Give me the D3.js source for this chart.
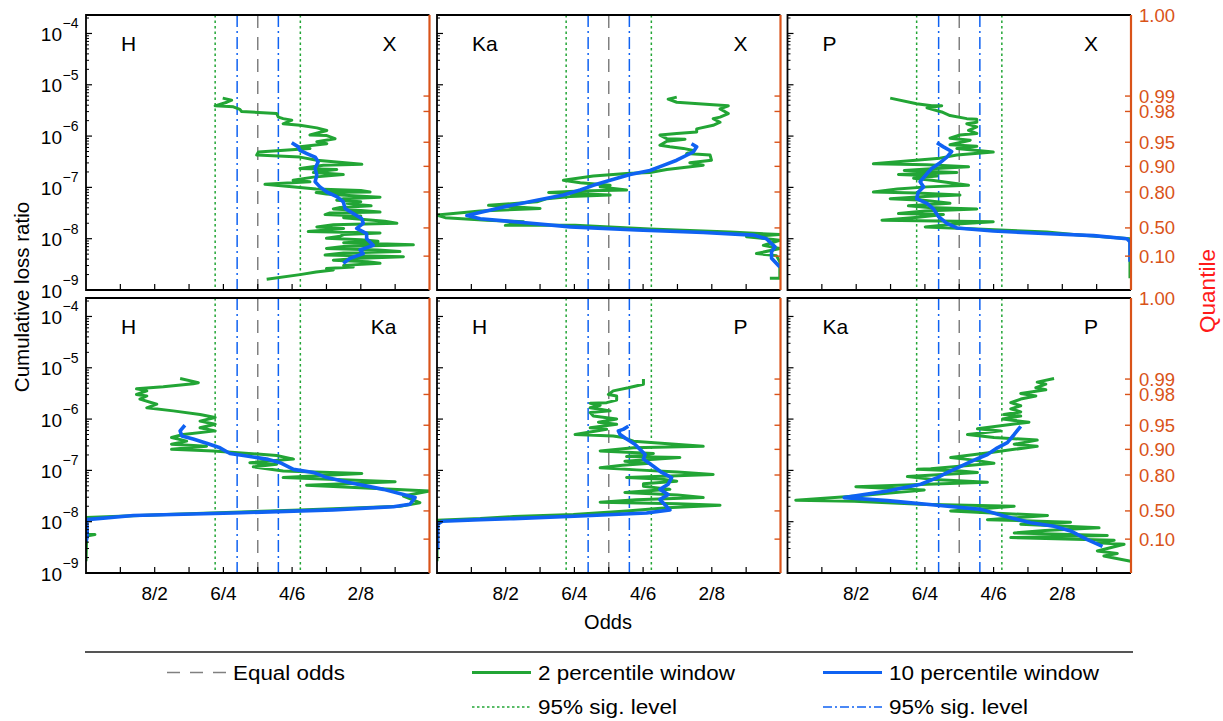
<!DOCTYPE html>
<html>
<head>
<meta charset="utf-8">
<script src="https://cdn.jsdelivr.net/npm/d3@7"></script>
<style>
  body { margin: 0; background: #fff; }
  text { font-family: "Liberation Sans", Arial, sans-serif; }
</style>
</head>
<body>
<svg id="chart" width="1223" height="721"></svg>
<script>
// ---- axis values ----
const oddsTicks = [0.9, 0.8, 0.7, 0.6, 0.5, 0.4, 0.3, 0.2, 0.1];
const oddsLabelValues = [0.8, 0.6, 0.4, 0.2];
const oddsLabels = ["8/2", "6/4", "4/6", "2/8"];
const decadeExponents = [-4, -5, -6, -7, -8, -9];
const topExponent = -3.64;
const bottomExponent = -9;
const quantileLabels = ["1.00", "0.99", "0.98", "0.95", "0.90", "0.80", "0.50", "0.10"];
const quantileExponents = [-3.64, -5.22, -5.52, -6.12, -6.59, -7.09, -7.79, -8.34];

// ---- reference levels (odds) ----
const equalOdds = 0.5;
const sigLevel2 = [0.624, 0.376];
const sigLevel10 = [0.56, 0.44];

// ---- panel pairs ----
const panelPairs = [["H", "X"], ["Ka", "X"], ["P", "X"], ["H", "Ka"], ["H", "P"], ["Ka", "P"]];

// ---- curves: [odds, log10(cumulative loss ratio)] ----
const hxGreen = [[0.602,-5.26],[0.576,-5.30],[0.590,-5.34],[0.624,-5.41],[0.571,-5.43],[0.552,-5.48],[0.547,-5.52],[0.445,-5.56],[0.440,-5.63],[0.426,-5.66],[0.401,-5.69],[0.426,-5.76],[0.377,-5.79],[0.328,-5.84],[0.299,-5.89],[0.348,-5.98],[0.299,-5.99],[0.275,-6.05],[0.328,-6.11],[0.299,-6.15],[0.377,-6.21],[0.348,-6.24],[0.498,-6.31],[0.503,-6.37],[0.377,-6.41],[0.328,-6.47],[0.197,-6.55],[0.309,-6.57],[0.377,-6.63],[0.270,-6.65],[0.310,-6.68],[0.338,-6.71],[0.251,-6.75],[0.338,-6.80],[0.397,-6.86],[0.348,-6.89],[0.479,-6.94],[0.377,-7.00],[0.330,-7.03],[0.200,-7.06],[0.173,-7.09],[0.330,-7.10],[0.300,-7.13],[0.260,-7.15],[0.144,-7.19],[0.250,-7.22],[0.270,-7.25],[0.200,-7.28],[0.240,-7.31],[0.222,-7.33],[0.170,-7.36],[0.260,-7.39],[0.280,-7.42],[0.200,-7.45],[0.144,-7.48],[0.290,-7.50],[0.304,-7.53],[0.200,-7.56],[0.250,-7.59],[0.200,-7.62],[0.130,-7.66],[0.095,-7.70],[0.280,-7.73],[0.328,-7.77],[0.250,-7.80],[0.300,-7.83],[0.353,-7.86],[0.144,-7.89],[0.250,-7.92],[0.260,-7.95],[0.300,-7.99],[0.200,-8.02],[0.150,-8.05],[0.250,-8.08],[0.047,-8.12],[0.250,-8.15],[0.300,-8.19],[0.150,-8.22],[0.086,-8.25],[0.250,-8.28],[0.304,-8.32],[0.076,-8.35],[0.200,-8.38],[0.280,-8.42],[0.180,-8.45],[0.144,-8.48],[0.250,-8.52],[0.222,-8.55],[0.300,-8.58],[0.280,-8.61],[0.330,-8.65],[0.377,-8.70],[0.474,-8.79]];
const hxBlue = [[0.401,-6.13],[0.382,-6.21],[0.377,-6.28],[0.357,-6.34],[0.333,-6.41],[0.324,-6.50],[0.333,-6.63],[0.328,-6.76],[0.333,-6.89],[0.319,-6.99],[0.299,-7.09],[0.270,-7.18],[0.251,-7.28],[0.246,-7.41],[0.222,-7.51],[0.197,-7.61],[0.193,-7.70],[0.212,-7.80],[0.183,-7.90],[0.183,-8.00],[0.164,-8.13],[0.202,-8.22],[0.193,-8.29],[0.231,-8.38],[0.251,-8.48]];

const kaxGreen = [[0.302,-5.24],[0.327,-5.28],[0.302,-5.34],[0.196,-5.39],[0.152,-5.41],[0.176,-5.47],[0.152,-5.56],[0.176,-5.63],[0.196,-5.66],[0.176,-5.73],[0.196,-5.79],[0.244,-5.86],[0.244,-5.92],[0.302,-5.95],[0.351,-5.98],[0.331,-6.05],[0.278,-6.06],[0.331,-6.10],[0.351,-6.18],[0.322,-6.21],[0.283,-6.24],[0.254,-6.28],[0.273,-6.34],[0.205,-6.37],[0.201,-6.47],[0.264,-6.52],[0.225,-6.57],[0.331,-6.65],[0.380,-6.71],[0.448,-6.73],[0.545,-6.78],[0.632,-6.86],[0.583,-6.91],[0.496,-6.96],[0.525,-6.99],[0.448,-7.05],[0.583,-7.07],[0.675,-7.10],[0.496,-7.15],[0.612,-7.18],[0.680,-7.22],[0.709,-7.28],[0.850,-7.35],[0.700,-7.41],[0.874,-7.46],[1.0,-7.54],[0.976,-7.59],[0.855,-7.64],[0.748,-7.67],[0.801,-7.74],[0.598,-7.74],[0.380,-7.81],[0.147,-7.87],[0.002,-7.92],[0.099,-7.96],[0.002,-8.03],[0.050,-8.13],[0.002,-8.19],[0.070,-8.29],[0.012,-8.33],[0.002,-8.45],[0.002,-8.77],[0.031,-8.77]];
const kaxBlue = [[0.259,-6.15],[0.244,-6.21],[0.254,-6.31],[0.302,-6.47],[0.341,-6.57],[0.380,-6.67],[0.438,-6.75],[0.496,-6.86],[0.545,-6.96],[0.583,-7.05],[0.632,-7.15],[0.709,-7.25],[0.806,-7.38],[0.913,-7.55],[0.874,-7.61],[0.758,-7.68],[0.612,-7.77],[0.419,-7.83],[0.225,-7.88],[0.079,-7.93],[0.041,-8.00],[0.016,-8.16],[0.026,-8.25],[0.026,-8.38],[0.002,-8.55]];

const pxGreen = [[0.701,-5.26],[0.624,-5.37],[0.580,-5.41],[0.551,-5.41],[0.594,-5.45],[0.551,-5.53],[0.527,-5.60],[0.478,-5.66],[0.449,-5.67],[0.449,-5.73],[0.478,-5.76],[0.449,-5.82],[0.473,-5.89],[0.449,-5.95],[0.498,-5.98],[0.527,-6.04],[0.468,-6.08],[0.527,-6.17],[0.449,-6.20],[0.507,-6.24],[0.401,-6.31],[0.507,-6.37],[0.556,-6.43],[0.750,-6.54],[0.594,-6.56],[0.473,-6.60],[0.594,-6.64],[0.660,-6.67],[0.507,-6.71],[0.677,-6.75],[0.565,-6.78],[0.633,-6.82],[0.580,-6.86],[0.473,-6.96],[0.594,-6.99],[0.680,-7.03],[0.750,-7.09],[0.624,-7.11],[0.498,-7.15],[0.600,-7.18],[0.701,-7.22],[0.604,-7.25],[0.527,-7.31],[0.648,-7.36],[0.590,-7.39],[0.449,-7.42],[0.600,-7.46],[0.677,-7.51],[0.546,-7.53],[0.620,-7.58],[0.725,-7.64],[0.401,-7.67],[0.520,-7.72],[0.599,-7.77],[0.449,-7.81],[0.245,-7.87],[0.168,-7.92],[0.003,-8.00],[0.003,-8.77]];
const pxBlue = [[0.565,-6.13],[0.546,-6.21],[0.522,-6.30],[0.536,-6.41],[0.560,-6.54],[0.580,-6.63],[0.594,-6.73],[0.614,-6.89],[0.604,-6.99],[0.619,-7.09],[0.624,-7.22],[0.594,-7.31],[0.575,-7.42],[0.560,-7.57],[0.536,-7.70],[0.507,-7.79],[0.401,-7.85],[0.254,-7.90],[0.109,-7.94],[0.012,-8.00],[0.003,-8.06],[0.003,-8.45]];

const hkaGreen = [[0.726,-5.21],[0.673,-5.29],[0.688,-5.31],[0.746,-5.35],[0.775,-5.37],[0.853,-5.41],[0.823,-5.45],[0.853,-5.52],[0.823,-5.55],[0.843,-5.61],[0.794,-5.71],[0.823,-5.78],[0.746,-5.84],[0.668,-5.91],[0.624,-5.97],[0.668,-6.04],[0.624,-6.10],[0.668,-6.17],[0.624,-6.23],[0.717,-6.30],[0.751,-6.36],[0.707,-6.43],[0.751,-6.49],[0.649,-6.53],[0.751,-6.59],[0.629,-6.62],[0.445,-6.71],[0.396,-6.78],[0.523,-6.85],[0.445,-6.88],[0.513,-6.93],[0.426,-7.01],[0.197,-7.06],[0.426,-7.14],[0.100,-7.22],[0.358,-7.29],[0.0,-7.40],[0.076,-7.50],[0.028,-7.63],[0.086,-7.70],[0.377,-7.77],[0.765,-7.86],[1.0,-7.92],[0.998,-8.25],[0.974,-8.25],[0.998,-8.28],[1.0,-8.77]];
const hkaBlue = [[0.712,-6.12],[0.726,-6.23],[0.721,-6.33],[0.688,-6.39],[0.649,-6.47],[0.610,-6.56],[0.581,-6.67],[0.532,-6.72],[0.474,-6.78],[0.435,-6.85],[0.396,-6.98],[0.338,-7.04],[0.299,-7.14],[0.231,-7.24],[0.134,-7.37],[0.076,-7.47],[0.042,-7.53],[0.057,-7.66],[0.105,-7.71],[0.280,-7.77],[0.571,-7.83],[0.862,-7.88],[0.998,-7.96],[0.996,-8.28],[1.0,-8.38]];

const hpGreen = [[0.399,-5.22],[0.399,-5.32],[0.443,-5.39],[0.487,-5.45],[0.501,-5.52],[0.477,-5.55],[0.477,-5.63],[0.506,-5.68],[0.554,-5.69],[0.525,-5.73],[0.554,-5.78],[0.525,-5.81],[0.496,-5.84],[0.554,-5.87],[0.545,-5.94],[0.477,-6.00],[0.530,-6.06],[0.477,-6.10],[0.554,-6.17],[0.506,-6.20],[0.598,-6.30],[0.487,-6.33],[0.458,-6.36],[0.428,-6.43],[0.225,-6.53],[0.428,-6.56],[0.525,-6.62],[0.370,-6.67],[0.448,-6.73],[0.293,-6.75],[0.453,-6.82],[0.380,-6.86],[0.460,-6.90],[0.525,-6.95],[0.419,-6.99],[0.300,-7.03],[0.196,-7.08],[0.448,-7.14],[0.350,-7.17],[0.302,-7.21],[0.399,-7.26],[0.399,-7.31],[0.322,-7.37],[0.453,-7.43],[0.300,-7.48],[0.225,-7.53],[0.420,-7.57],[0.525,-7.62],[0.300,-7.65],[0.176,-7.68],[0.330,-7.73],[0.448,-7.79],[0.603,-7.86],[0.777,-7.90],[0.874,-7.94],[1.0,-7.97],[1.0,-8.77]];
const hpBlue = [[0.443,-6.14],[0.458,-6.20],[0.472,-6.23],[0.467,-6.30],[0.448,-6.39],[0.424,-6.49],[0.409,-6.59],[0.394,-6.69],[0.399,-6.78],[0.370,-6.92],[0.346,-7.04],[0.317,-7.14],[0.327,-7.27],[0.351,-7.37],[0.327,-7.47],[0.351,-7.57],[0.332,-7.70],[0.322,-7.77],[0.390,-7.83],[0.583,-7.89],[0.777,-7.94],[0.874,-7.96],[0.985,-7.99],[0.998,-8.05],[0.998,-8.54]];

const kapGreen = [[0.224,-5.21],[0.273,-5.28],[0.248,-5.32],[0.277,-5.39],[0.248,-5.43],[0.321,-5.50],[0.277,-5.55],[0.321,-5.61],[0.350,-5.68],[0.321,-5.74],[0.350,-5.80],[0.321,-5.86],[0.370,-5.91],[0.321,-5.94],[0.374,-6.00],[0.297,-6.06],[0.447,-6.19],[0.379,-6.23],[0.476,-6.30],[0.399,-6.36],[0.321,-6.39],[0.273,-6.41],[0.340,-6.49],[0.273,-6.53],[0.340,-6.59],[0.408,-6.65],[0.525,-6.75],[0.457,-6.80],[0.399,-6.86],[0.583,-6.97],[0.622,-6.98],[0.496,-7.01],[0.447,-7.04],[0.651,-7.12],[0.573,-7.18],[0.418,-7.23],[0.593,-7.27],[0.801,-7.32],[0.602,-7.38],[0.719,-7.45],[0.801,-7.50],[0.976,-7.58],[0.806,-7.60],[0.612,-7.66],[0.340,-7.70],[0.525,-7.79],[0.243,-7.88],[0.418,-7.96],[0.176,-8.01],[0.321,-8.05],[0.093,-8.12],[0.250,-8.17],[0.340,-8.22],[0.069,-8.27],[0.350,-8.31],[0.049,-8.36],[0.098,-8.41],[0.020,-8.44],[0.098,-8.57],[0.040,-8.62],[0.079,-8.67],[0.001,-8.77]];
const kapBlue = [[0.321,-6.14],[0.340,-6.30],[0.360,-6.46],[0.389,-6.56],[0.418,-6.69],[0.457,-6.80],[0.496,-6.92],[0.534,-7.04],[0.564,-7.14],[0.612,-7.27],[0.709,-7.40],[0.835,-7.53],[0.709,-7.59],[0.564,-7.68],[0.437,-7.76],[0.370,-7.89],[0.292,-8.02],[0.224,-8.09],[0.176,-8.18],[0.127,-8.35],[0.083,-8.48]];

const greenSeries = [hxGreen, kaxGreen, pxGreen, hkaGreen, hpGreen, kapGreen];
const blueSeries = [hxBlue, kaxBlue, pxBlue, hkaBlue, hpBlue, kapBlue];

// ---- styling ----
const GREEN = "#22a535";
const BLUE = "#0f62f2";
const ORANGE = "#d95319";
const GREY = "#808080";

const svg = d3.select("#chart");
const colLefts = [86, 437, 787.5];
const rowTops = [15, 298];
const panelW = 343.5, panelH = 275;

panelPairs.forEach((pair, i) => {
  const col = i % 3, row = Math.floor(i / 3);
  const x0 = colLefts[col], y0 = rowTops[row];
  const x = d3.scaleLinear().domain([1, 0]).range([x0, x0 + panelW]);
  const y = d3.scaleLog().domain([10 ** bottomExponent, 10 ** topExponent]).range([y0 + panelH, y0]);
  const g = svg.append("g");

  const clipId = "clip" + i;
  svg.append("clipPath").attr("id", clipId)
    .append("rect").attr("x", x0).attr("y", y0).attr("width", panelW).attr("height", panelH);

  // reference lines
  const vline = (v, color, dash) => g.append("line")
    .attr("x1", x(v)).attr("x2", x(v)).attr("y1", y0).attr("y2", y0 + panelH)
    .attr("stroke", color).attr("stroke-width", 1.5).attr("stroke-dasharray", dash);
  sigLevel2.forEach(v => vline(v, GREEN, "2.5,3"));
  sigLevel10.forEach(v => vline(v, BLUE, "12,4,2,4"));
  vline(equalOdds, GREY, "13,9");

  // curves
  const line = d3.line().x(d => x(d[0])).y(d => y(10 ** d[1]));
  const cg = g.append("g").attr("clip-path", `url(#${clipId})`);
  cg.append("path").datum(greenSeries[i]).attr("d", line)
    .attr("fill", "none").attr("stroke", GREEN).attr("stroke-width", 3).attr("stroke-linejoin", "round");
  cg.append("path").datum(blueSeries[i]).attr("d", line)
    .attr("fill", "none").attr("stroke", BLUE).attr("stroke-width", 3.6).attr("stroke-linejoin", "round");

  // left log ticks (inward)
  const minorVals = [];
  for (let e = bottomExponent; e < Math.ceil(topExponent); e++) {
    for (let m = 2; m <= 9; m++) {
      const v = m * 10 ** e;
      if (v <= 10 ** topExponent) minorVals.push(v);
    }
  }
  g.selectAll(null).data(minorVals).join("line")
    .attr("x1", x0).attr("x2", x0 + 3).attr("y1", d => y(d)).attr("y2", d => y(d))
    .attr("stroke", "#000").attr("stroke-width", 1);
  g.selectAll(null).data(decadeExponents).join("line")
    .attr("x1", x0).attr("x2", x0 + 6).attr("y1", d => y(10 ** d)).attr("y2", d => y(10 ** d))
    .attr("stroke", "#000").attr("stroke-width", 1.2);

  // bottom odds ticks (inward)
  g.selectAll(null).data(oddsTicks).join("line")
    .attr("x1", d => x(d)).attr("x2", d => x(d)).attr("y1", y0 + panelH).attr("y2", y0 + panelH - 6)
    .attr("stroke", "#000").attr("stroke-width", 1.2);

  // right quantile ticks (inward)
  g.selectAll(null).data(quantileExponents.slice(1)).join("line")
    .attr("x1", x0 + panelW).attr("x2", x0 + panelW - 6).attr("y1", d => y(10 ** d)).attr("y2", d => y(10 ** d))
    .attr("stroke", ORANGE).attr("stroke-width", 1.4);

  // frame
  g.append("path")
    .attr("d", `M${x0 + panelW},${y0}H${x0}V${y0 + panelH}H${x0 + panelW}`)
    .attr("fill", "none").attr("stroke", "#000").attr("stroke-width", 1.8);
  g.append("line").attr("x1", x0 + panelW).attr("x2", x0 + panelW).attr("y1", y0).attr("y2", y0 + panelH)
    .attr("stroke", ORANGE).attr("stroke-width", 2.2);

  // pair labels
  g.append("text").attr("x", x0 + 35).attr("y", y0 + 35.5).attr("font-size", 21).text(pair[0]);
  g.append("text").attr("x", x0 + panelW - 33).attr("y", y0 + 35.5).attr("font-size", 21)
    .attr("text-anchor", "end").text(pair[1]);

  // left decade labels on first column
  if (col === 0) {
    decadeExponents.forEach(e => {
      const yy = y(10 ** e);
      g.append("text").attr("x", 62).attr("y", yy + 7.5).attr("font-size", 19)
        .attr("text-anchor", "end").text("10");
      g.append("text").attr("x", 62.5).attr("y", yy - 5).attr("font-size", 14)
        .text("\u2212" + (-e));
    });
  }
  // quantile labels on last column
  if (col === 2) {
    quantileExponents.forEach((e, k) => {
      g.append("text").attr("x", 1139).attr("y", y(10 ** e) + 6.5).attr("font-size", 18.5)
        .attr("fill", ORANGE).text(quantileLabels[k]);
    });
  }
  // odds labels on bottom row
  if (row === 1) {
    oddsLabelValues.forEach((v, k) => {
      g.append("text").attr("x", x(v)).attr("y", 600).attr("font-size", 19)
        .attr("text-anchor", "middle").text(oddsLabels[k]);
    });
  }
});

// axis titles
svg.append("text").attr("transform", "translate(29,297) rotate(-90)")
  .attr("text-anchor", "middle").attr("font-size", 20.5).text("Cumulative loss ratio");
svg.append("text").attr("transform", "translate(1215,291) rotate(-90)")
  .attr("text-anchor", "middle").attr("font-size", 22.5).attr("fill", "#ff1a1a").text("Quantile");
svg.append("text").attr("x", 608).attr("y", 629).attr("text-anchor", "middle")
  .attr("font-size", 20).text("Odds");

// legend
svg.append("line").attr("x1", 85).attr("x2", 1133).attr("y1", 652).attr("y2", 652)
  .attr("stroke", "#555").attr("stroke-width", 2);
const legendItems = [
  { x: 167, y: 672.5, color: GREY, dash: "13,10", width: 1.6, label: "Equal odds", len: 112 },
  { x: 472, y: 672.5, color: GREEN, dash: null, width: 3, label: "2 percentile window", len: 197 },
  { x: 823, y: 672.5, color: BLUE, dash: null, width: 3, label: "10 percentile window", len: 210 },
  { x: 472, y: 707, color: GREEN, dash: "2.5,2.5", width: 1.6, label: "95% sig. level", len: 139 },
  { x: 823, y: 707, color: BLUE, dash: "9,3,2,3", width: 1.6, label: "95% sig. level", len: 139 }
];
legendItems.forEach(it => {
  svg.append("line").attr("x1", it.x).attr("x2", it.x + 59).attr("y1", it.y).attr("y2", it.y)
    .attr("stroke", it.color).attr("stroke-width", it.width).attr("stroke-dasharray", it.dash);
  svg.append("text").attr("x", it.x + 66).attr("y", it.y + 7).attr("font-size", 20)
    .attr("textLength", it.len).attr("lengthAdjust", "spacingAndGlyphs").text(it.label);
});
</script>
</body>
</html>
